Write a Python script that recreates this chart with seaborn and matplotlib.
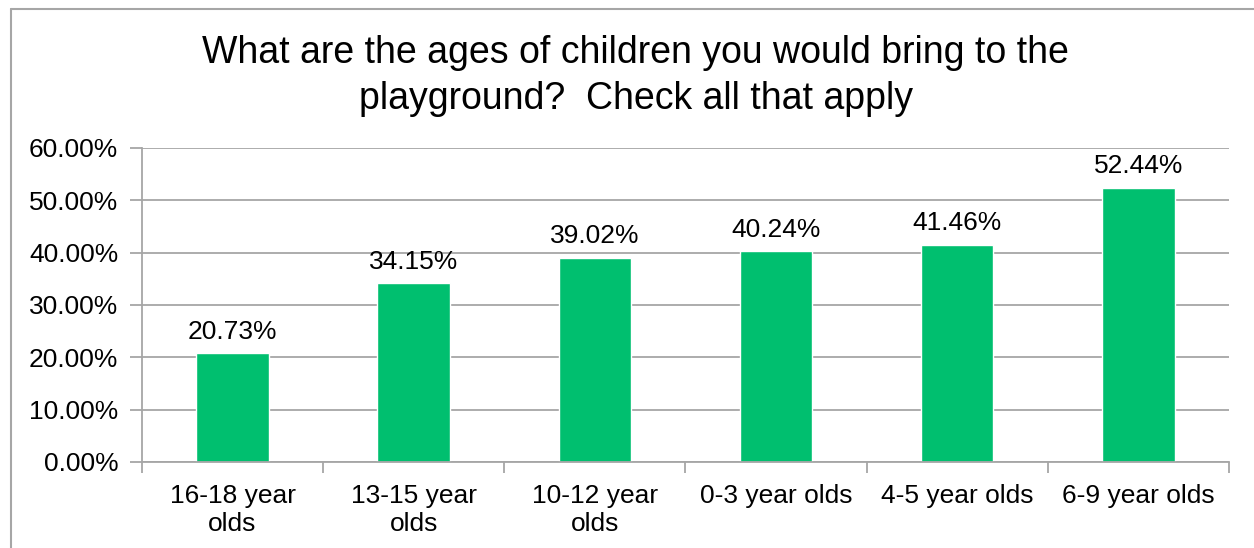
import seaborn as sns
import pandas as pd
import matplotlib.pyplot as plt
from matplotlib.ticker import FuncFormatter, FixedLocator
from matplotlib.lines import Line2D

categories = ['16-18 year\nolds', '13-15 year\nolds', '10-12 year\nolds',
              '0-3 year olds', '4-5 year olds', '6-9 year olds']
shares = [0.2073, 0.3415, 0.3902, 0.4024, 0.4146, 0.5244]

df = pd.DataFrame({'age': categories, 'share': shares})

sns.set_style('white')
plt.rcParams['font.family'] = ['Liberation Sans', 'DejaVu Sans']
plt.rcParams['text.color'] = 'black'
plt.rcParams['xtick.labelcolor'] = 'black'
plt.rcParams['ytick.labelcolor'] = 'black'

fig = plt.figure(figsize=(12.54, 5.48), dpi=100)
ax = fig.add_axes([0.1132, 0.157, 0.8668, 0.573])

sns.barplot(data=df, x='age', y='share', color='#00BF6F', saturation=1,
            width=0.4, ax=ax)

ax.set_ylim(0, 0.6)
ax.set_xlim(-0.5, 5.5)
ax.set_yticks([i / 10 for i in range(7)])
ax.yaxis.set_major_formatter(FuncFormatter(lambda v, p: f'{v * 100:.2f}%'))
ax.yaxis.grid(True, color='#A6A6A6', linewidth=1.3)
ax.set_axisbelow(True)

for s in ['top', 'right']:
    ax.spines[s].set_visible(False)
for s in ['left', 'bottom']:
    ax.spines[s].set_color('#A6A6A6')
    ax.spines[s].set_linewidth(1.3)

ax.tick_params(axis='y', length=9, width=1.3, color='#A6A6A6', labelsize=19, pad=8,
               left=True, labelcolor='black')
ax.tick_params(axis='x', which='major', length=0, labelsize=19, pad=16,
               labelcolor='black')
ax.xaxis.set_minor_locator(FixedLocator([i - 0.5 for i in range(7)]))
ax.tick_params(axis='x', which='minor', length=8, width=1.3, color='#A6A6A6',
               bottom=True)

ax.set_xlabel('')
ax.set_ylabel('')

ax.bar_label(ax.containers[0], labels=[f'{v * 100:.2f}%' for v in shares],
             fontsize=19, padding=7, color='black')

fig.text(0.507, 1 - 76 / 548,
         'What are the ages of children you would bring to the\nplayground?  Check all that apply',
         fontsize=27, ha='center', va='center', linespacing=1.38, color='black')

# outer chart frame
fig.add_artist(Line2D([11 / 1254, 1.0], [1 - 9 / 548, 1 - 9 / 548],
                      transform=fig.transFigure, color='#A6A6A6', linewidth=1.5))
fig.add_artist(Line2D([11 / 1254, 11 / 1254], [0, 1 - 9 / 548],
                      transform=fig.transFigure, color='#A6A6A6', linewidth=1.5))

plt.savefig('out.png', dpi=100)
